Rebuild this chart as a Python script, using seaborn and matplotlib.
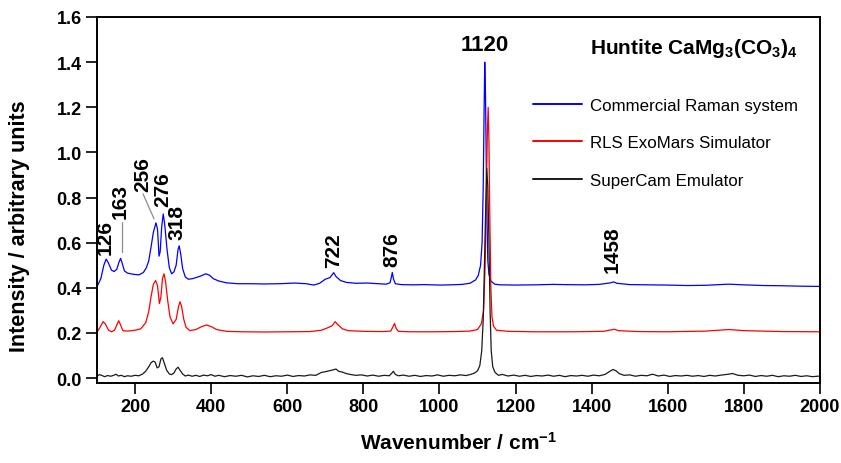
import matplotlib
matplotlib.use("Agg")
import matplotlib.pyplot as plt
import seaborn as sns
import pandas as pd

# ---------------- data ----------------
blue_x = [100, 110, 118, 124, 130, 138, 145, 152, 158, 162, 166, 172, 180, 195, 210, 222, 230, 236,
          242, 248, 255, 259, 263, 266, 270, 274, 278, 284, 290, 296, 302, 308, 313, 316, 320, 325,
          332, 340, 350, 360, 372, 386, 396, 406, 420, 440, 470, 500, 540, 580, 620, 650, 670, 685,
          700, 712, 718, 722, 728, 740, 755, 780, 810, 840, 860, 870, 874, 876, 879, 884, 900, 930,
          960, 1000, 1030, 1060, 1080, 1095, 1102, 1108, 1112, 1115, 1117, 1119, 1121, 1123, 1125,
          1127, 1130, 1135, 1145, 1160, 1200, 1250, 1300, 1330, 1380, 1420, 1450, 1458, 1466, 1500,
          1550, 1600, 1650, 1700, 1760, 1800, 1850, 1900, 1950, 2000]
blue_y = [0.405, 0.44, 0.50, 0.527, 0.51, 0.478, 0.472, 0.482, 0.515, 0.53, 0.51, 0.475, 0.465, 0.46,
          0.457, 0.468, 0.49, 0.52, 0.58, 0.645, 0.688, 0.66, 0.54, 0.56, 0.67, 0.727, 0.68, 0.57,
          0.49, 0.462, 0.47, 0.50, 0.57, 0.586, 0.55, 0.485, 0.448, 0.438, 0.44, 0.445, 0.452, 0.462,
          0.455, 0.44, 0.43, 0.422, 0.418, 0.418, 0.417, 0.418, 0.421, 0.418, 0.412, 0.42, 0.438,
          0.445, 0.458, 0.467, 0.45, 0.432, 0.424, 0.42, 0.421, 0.418, 0.416, 0.422, 0.45, 0.468,
          0.44, 0.418, 0.414, 0.413, 0.414, 0.412, 0.413, 0.415, 0.42, 0.435, 0.455, 0.5, 0.6, 0.85,
          1.15, 1.40, 1.25, 0.95, 0.7, 0.52, 0.46, 0.43, 0.416, 0.413, 0.412, 0.413, 0.415, 0.414,
          0.413, 0.415, 0.422, 0.426, 0.42, 0.414, 0.413, 0.412, 0.41, 0.411, 0.416, 0.413, 0.41,
          0.409, 0.407, 0.406]

red_x = [100, 108, 116, 122, 130, 138, 146, 152, 157, 162, 168, 180, 200, 215, 228, 236, 242, 248,
         254, 259, 264, 268, 272, 276, 280, 286, 292, 300, 308, 314, 318, 322, 328, 334, 344, 360,
         375, 388, 400, 414, 440, 480, 540, 600, 660, 690, 708, 718, 726, 732, 745, 760, 800, 850,
         872, 878, 882, 886, 892, 920, 980, 1040, 1080, 1100, 1110, 1116, 1120, 1123, 1126, 1128,
         1130, 1132, 1135, 1138, 1142, 1150, 1180, 1250, 1350, 1430, 1450, 1460, 1470, 1520, 1600,
         1700, 1760, 1800, 1900, 2000]
red_y = [0.203, 0.225, 0.25, 0.24, 0.213, 0.205, 0.212, 0.235, 0.254, 0.235, 0.21, 0.208, 0.212,
         0.218, 0.245, 0.295, 0.36, 0.415, 0.432, 0.41, 0.33, 0.36, 0.44, 0.462, 0.43, 0.34, 0.27,
         0.24, 0.26, 0.315, 0.338, 0.32, 0.26, 0.225, 0.21, 0.215, 0.228, 0.235, 0.228, 0.215, 0.207,
         0.205, 0.204, 0.205, 0.206, 0.212, 0.224, 0.232, 0.25, 0.238, 0.218, 0.21, 0.207, 0.206,
         0.208, 0.228, 0.242, 0.22, 0.207, 0.205, 0.205, 0.206, 0.208, 0.215, 0.24, 0.3, 0.5, 0.8,
         1.1, 1.2, 1.05, 0.75, 0.4, 0.27, 0.23, 0.212, 0.207, 0.205, 0.205, 0.207, 0.213, 0.216,
         0.21, 0.206, 0.205, 0.208, 0.215, 0.21, 0.206, 0.205]

black_x = [100, 106, 112, 120, 128, 136, 144, 150, 156, 164, 172, 180, 190, 200, 210, 220, 228, 236,
           242, 248, 253, 258, 263, 268, 272, 277, 283, 290, 296, 302, 308, 313, 318, 325, 332, 340,
           350, 360, 370, 380, 390, 400, 410, 420, 435, 450, 465, 480, 495, 510, 525, 540, 555, 570,
           585, 600, 615, 630, 645, 660, 675, 690, 700, 710, 720, 728, 735, 745, 755, 765, 780, 795,
           810, 825, 840, 855, 868, 875, 879, 884, 892, 905, 920, 935, 950, 965, 980, 995, 1010, 1025,
           1040, 1055, 1070, 1082, 1092, 1100, 1106, 1111, 1115, 1118, 1121, 1124, 1127, 1130, 1133,
           1136, 1140, 1146, 1155, 1165, 1180, 1195, 1210, 1225, 1240, 1255, 1270, 1285, 1300, 1315,
           1330, 1345, 1360, 1375, 1390, 1405, 1420, 1435, 1448, 1456, 1464, 1472, 1485, 1500, 1515,
           1530, 1545, 1560, 1575, 1590, 1605, 1620, 1635, 1650, 1665, 1680, 1695, 1710, 1725, 1740,
           1755, 1770, 1785, 1800, 1815, 1830, 1845, 1860, 1875, 1890, 1905, 1920, 1935, 1950, 1965,
           1980, 2000]
black_y = [0.008, 0.015, 0.012, 0.006, 0.011, 0.008, 0.012, 0.017, 0.009, 0.012, 0.006, 0.01, 0.008,
           0.012, 0.01, 0.018, 0.03, 0.05, 0.068, 0.075, 0.07, 0.045, 0.05, 0.085, 0.09, 0.065,
           0.035, 0.018, 0.015, 0.022, 0.04, 0.048, 0.035, 0.018, 0.009, 0.013, 0.008, 0.012, 0.007,
           0.013, 0.01, 0.015, 0.008, 0.012, 0.006, 0.011, 0.008, 0.012, 0.005, 0.01, 0.007, 0.012,
           0.006, 0.01, 0.008, 0.013, 0.007, 0.011, 0.009, 0.014, 0.012, 0.025, 0.028, 0.032, 0.036,
           0.04, 0.03, 0.026, 0.02, 0.016, 0.012, 0.014, 0.009, 0.013, 0.008, 0.012, 0.01, 0.022,
           0.03, 0.016, 0.01, 0.013, 0.008, 0.012, 0.007, 0.011, 0.009, 0.014, 0.008, 0.012, 0.01,
           0.014, 0.011, 0.016, 0.022, 0.032, 0.055, 0.12, 0.26, 0.5, 0.72, 0.93, 0.85, 0.6, 0.3,
           0.12, 0.05, 0.025, 0.012, 0.016, 0.009, 0.013, 0.008, 0.012, 0.007, 0.011, 0.009, 0.013,
           0.008, 0.012, 0.006, 0.011, 0.009, 0.012, 0.008, 0.013, 0.01, 0.016, 0.03, 0.038, 0.032,
           0.02, 0.012, 0.014, 0.008, 0.012, 0.01, 0.017, 0.009, 0.013, 0.007, 0.011, 0.009, 0.012,
           0.008, 0.011, 0.007, 0.012, 0.009, 0.013, 0.016, 0.02, 0.012, 0.01, 0.013, 0.007, 0.011,
           0.008, 0.012, 0.006, 0.01, 0.008, 0.012, 0.007, 0.01, 0.006, 0.009]

series_names = ["Commercial Raman system", "RLS ExoMars Simulator", "SuperCam Emulator"]
series_colors = ["#0000ff", "#ff0000", "#1a1a1a"]

# peak annotations: label, x, y (bottom of the rotated text)
peak_labels = ["126", "163", "256", "276", "318", "722", "876", "1458"]
peak_label_x = [122, 160, 220, 273, 311, 723, 875, 1454]
peak_label_y = [0.548, 0.709, 0.829, 0.762, 0.616, 0.492, 0.496, 0.47]
main_peak_label = "1120"
main_peak_x = 1119
main_peak_y = 1.43

x_ticks = [200, 400, 600, 800, 1000, 1200, 1400, 1600, 1800, 2000]
y_ticks = [0.0, 0.2, 0.4, 0.6, 0.8, 1.0, 1.2, 1.4, 1.6]

# ---------------- style ----------------
sns.set_theme(style="ticks")
plt.rcParams["font.family"] = ["Liberation Sans", "DejaVu Sans"]
plt.rcParams["mathtext.default"] = "regular"
plt.rcParams["text.color"] = "black"
plt.rcParams["axes.labelcolor"] = "black"

fig = plt.figure(figsize=(8.41, 4.64), dpi=100)
ax = fig.add_axes([97 / 841, 1 - 384 / 464, (820 - 97) / 841, (384 - 18) / 464])

frames = []
for xs, ys, name in [(blue_x, blue_y, series_names[0]),
                     (red_x, red_y, series_names[1]),
                     (black_x, black_y, series_names[2])]:
    frames.append(pd.DataFrame({"x": xs, "y": ys, "series": name}))
df = pd.concat(frames, ignore_index=True)

for name, col in zip(series_names, series_colors):
    sub = df[df["series"] == name]
    sns.lineplot(data=sub, x="x", y="y", ax=ax, color=col, lw=0.9,
                 estimator=None, sort=False, label=name)

ax.set_xlim(100, 2000)
ax.set_ylim(-0.022, 1.6)
ax.set_xticks(x_ticks)
ax.set_yticks(y_ticks)
ax.set_yticklabels([f"{v:.1f}" for v in y_ticks])
ax.tick_params(axis="both", direction="out", length=8, width=1.2, labelsize=13,
               colors="black", pad=3)
for lab in ax.get_xticklabels() + ax.get_yticklabels():
    lab.set_fontweight("bold")
for sp in ax.spines.values():
    sp.set_visible(True)
    sp.set_linewidth(1.4)
    sp.set_color("black")

ax.set_xlabel("Wavenumber / cm$^{-1}$", fontsize=15, fontweight="bold")
ax.xaxis.set_label_coords(0.5, -0.13)
ax.set_ylabel("Intensity / arbitrary units", fontsize=15.5, fontweight="bold")
ax.yaxis.set_label_coords(-0.092, 0.432)

for lab, px, py in zip(peak_labels, peak_label_x, peak_label_y):
    ax.text(px, py, lab, rotation=90, ha="center", va="bottom", fontsize=15,
            fontweight="bold", color="black")
ax.text(main_peak_x, main_peak_y, main_peak_label, ha="center", va="bottom",
        fontsize=16, fontweight="bold", color="black")

# leader lines for crowded labels
ax.plot([165, 165], [0.69, 0.558], color="#8c8c8c", lw=0.9)
ax.plot([221, 250], [0.816, 0.705], color="#8c8c8c", lw=0.9)

ax.text(1395, 1.467, "Huntite CaMg$_3$(CO$_3$)$_4$", ha="left", va="center",
        fontsize=15, fontweight="bold", color="black")

leg = ax.legend(loc="upper left", bbox_to_anchor=((533 - 97) / 723, 1 - (99 - 18) / 366),
                frameon=False, fontsize=12.2, handlelength=2.9, handletextpad=0.45,
                labelspacing=1.32, borderpad=0, borderaxespad=0)
for line in leg.get_lines():
    line.set_linewidth(1.4)
for t in leg.get_texts():
    t.set_color("black")

fig.savefig("out.png", dpi=100)
